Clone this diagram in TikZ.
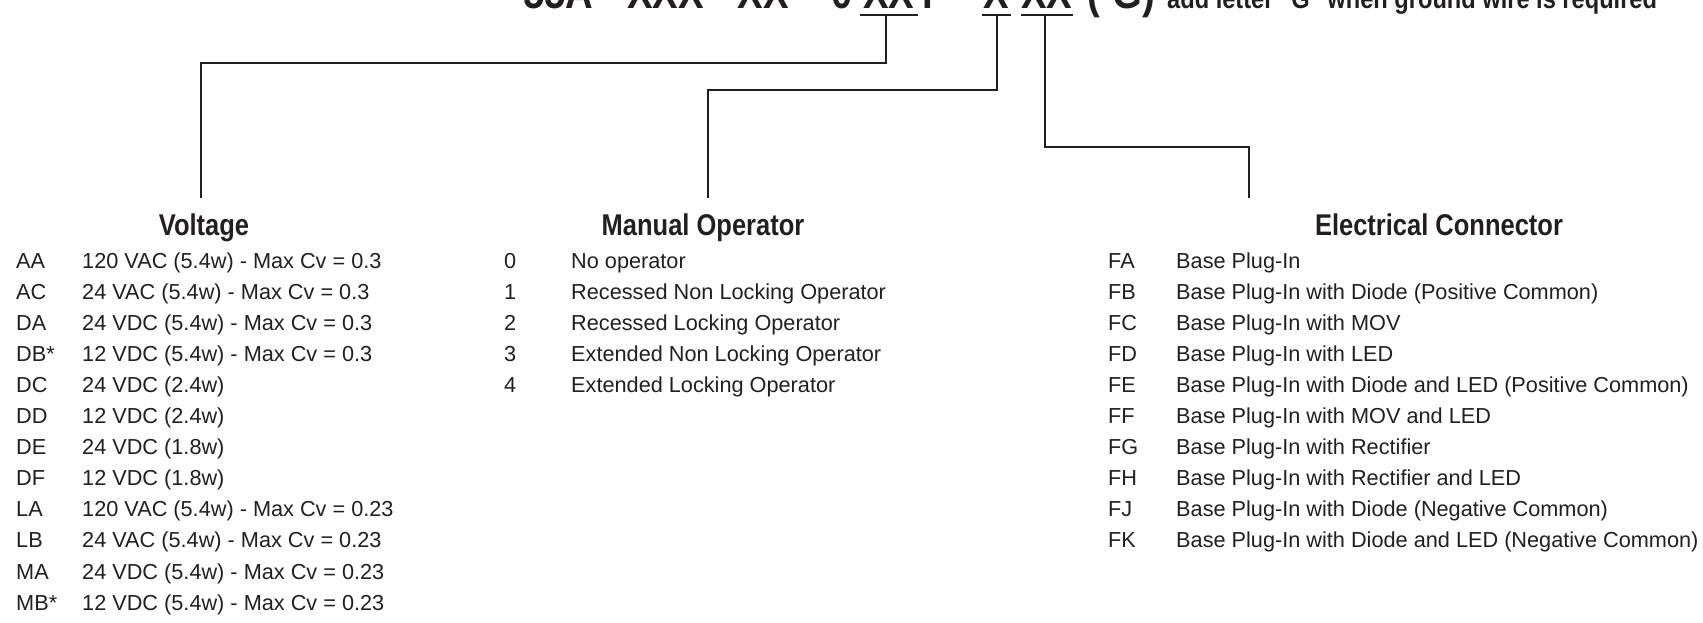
\documentclass[tikz,border=0pt]{standalone}
\usepackage{fontspec}
\setmainfont{Liberation Sans}
\newfontfamily\condbold{Liberation Sans}[FakeStretch=0.85]
\definecolor{ink}{RGB}{35,31,32}
\begin{document}
\begin{tikzpicture}[x=1pt,y=-1pt,
  body/.style={font=\fontsize{21.7}{26}\selectfont, inner sep=0pt, anchor=base west, text=ink},
  head/.style={font=\condbold\bfseries\fontsize{30}{36}\selectfont, inner sep=0pt, anchor=base, text=ink},
  big/.style={font=\condbold\bfseries\fontsize{45}{54}\selectfont, inner sep=0pt, anchor=base west, text=ink},
  note/.style={font=\condbold\bfseries\fontsize{27.8}{33}\selectfont, inner sep=0pt, anchor=base west, text=ink},
  wire/.style={line width=2.6pt, draw=ink}]
\useasboundingbox[fill=white] (0,0) rectangle (1703,623);

% header (cut at the top, as in the reference)
\node[big] (h1) at (523,9) {55A - XXX - XX -};
\node[big] (h2) at (831,9) {0};
\node[big] (u1) at (863,9) {XX};
\node[big] (h3) at (922,9) {F -};
\node[big] (u2) at (983,9) {X};
\node[big] (u3) at (1021,9) {XX};
\node[big] (h4) at (1087,9) {(-G)};
\node[note] (h5) at (1167,9) {add letter "G" when ground wire is required};

% underlines
\draw[wire] (860,15) -- (918,15);
\draw[wire] (982,15) -- (1011,15);
\draw[wire] (1021,15) -- (1073,15);
\coordinate (t1) at (886,15);
\coordinate (t2) at (997,15);
\coordinate (t3) at (1045,15);

% headings
\node[head] (hv) at (204,235) {Voltage};
\node[head] (hm) at (703,235) {Manual Operator};
\node[head] (he) at (1439,235) {Electrical Connector};

\coordinate (ev) at (201,198);
\coordinate (em) at (708,198);
\coordinate (ee) at (1249,198);

% connectors
\draw[wire] (ev) -- (201,63) -| (t1);
\draw[wire] (em) -- (708,90) -| (t2);
\draw[wire] (ee) -- (1249,147) -| (t3);

% Voltage list
\foreach \c/\d [count=\i from 0] in {
  AA/120 VAC (5.4w) - Max Cv = 0.3,
  AC/24 VAC (5.4w) - Max Cv = 0.3,
  DA/24 VDC (5.4w) - Max Cv = 0.3,
  DB*/12 VDC (5.4w) - Max Cv = 0.3,
  DC/24 VDC (2.4w),
  DD/12 VDC (2.4w),
  DE/24 VDC (1.8w),
  DF/12 VDC (1.8w),
  LA/120 VAC (5.4w) - Max Cv = 0.23,
  LB/24 VAC (5.4w) - Max Cv = 0.23,
  MA/24 VDC (5.4w) - Max Cv = 0.23,
  MB*/12 VDC (5.4w) - Max Cv = 0.23}{
  \node[body] (vc\i) at (16,268+31.1*\i) {\c};
  \node[body] (vd\i) at (82,268+31.1*\i) {\d};
}

% Manual operator list
\foreach \c/\d [count=\i from 0] in {
  0/No operator,
  1/Recessed Non Locking Operator,
  2/Recessed Locking Operator,
  3/Extended Non Locking Operator,
  4/Extended Locking Operator}{
  \node[body] (mc\i) at (504,268+31.1*\i) {\c};
  \node[body] (md\i) at (571,268+31.1*\i) {\d};
}

% Electrical connector list
\foreach \c/\d [count=\i from 0] in {
  FA/Base Plug-In,
  FB/Base Plug-In with Diode (Positive Common),
  FC/Base Plug-In with MOV,
  FD/Base Plug-In with LED,
  FE/Base Plug-In with Diode and LED (Positive Common),
  FF/Base Plug-In with MOV and LED,
  FG/Base Plug-In with Rectifier,
  FH/Base Plug-In with Rectifier and LED,
  FJ/Base Plug-In with Diode (Negative Common),
  FK/Base Plug-In with Diode and LED (Negative Common)}{
  \node[body] (ec\i) at (1108,268+31.1*\i) {\c};
  \node[body] (ed\i) at (1176,268+31.1*\i) {\d};
}
\end{tikzpicture}
\end{document}
